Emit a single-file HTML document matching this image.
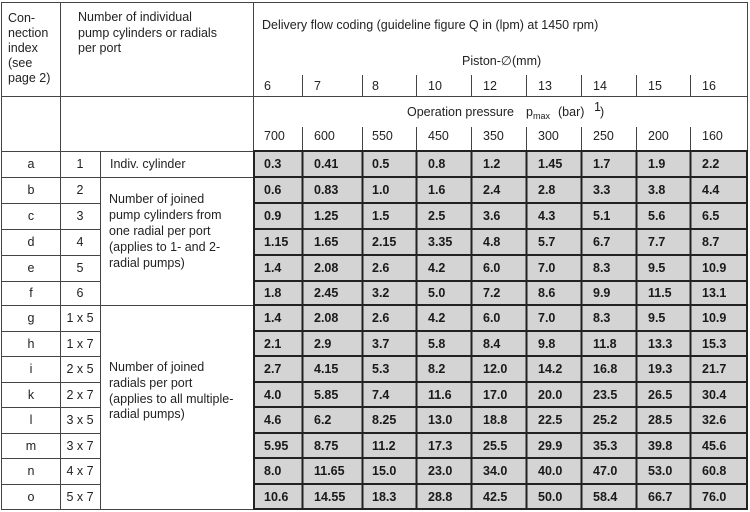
<!DOCTYPE html>
<html><head><meta charset="utf-8"><style>
html,body{margin:0;padding:0;background:#fff}
svg{display:block}
text{font-family:"Liberation Sans",Arial,sans-serif;font-size:12.5px;fill:#222}
.b{font-weight:bold;fill:#1a1a1a}
</style></head><body>
<svg width="750" height="512" viewBox="0 0 750 512" xmlns="http://www.w3.org/2000/svg">
<rect x="253" y="151" width="495" height="359" fill="#d4d4d4"/>
<g stroke="#444" stroke-width="1" fill="none">
<rect x="1.5" y="2.5" width="746" height="507"/>
<line x1="60.5" y1="2" x2="60.5" y2="510"/>
<line x1="100.5" y1="151" x2="100.5" y2="510"/>
<line x1="253.5" y1="2" x2="253.5" y2="510"/>
<line x1="1" y1="96.5" x2="748" y2="96.5"/>
<line x1="1" y1="151.5" x2="253" y2="151.5"/>
<line x1="100" y1="177.5" x2="253" y2="177.5"/>
<line x1="100" y1="305.5" x2="253" y2="305.5"/>
<line x1="1" y1="177.5" x2="100" y2="177.5"/><line x1="1" y1="203.5" x2="100" y2="203.5"/>
<line x1="1" y1="229.5" x2="100" y2="229.5"/><line x1="1" y1="255.5" x2="100" y2="255.5"/>
<line x1="1" y1="281.5" x2="100" y2="281.5"/><line x1="1" y1="305.5" x2="100" y2="305.5"/>
<line x1="1" y1="331.5" x2="100" y2="331.5"/><line x1="1" y1="356.5" x2="100" y2="356.5"/>
<line x1="1" y1="382.5" x2="100" y2="382.5"/><line x1="1" y1="407.5" x2="100" y2="407.5"/>
<line x1="1" y1="433.5" x2="100" y2="433.5"/><line x1="1" y1="458.5" x2="100" y2="458.5"/>
<line x1="1" y1="484.5" x2="100" y2="484.5"/>
<line x1="302.5" y1="75" x2="302.5" y2="96"/><line x1="362.5" y1="75" x2="362.5" y2="96"/>
<line x1="416.5" y1="75" x2="416.5" y2="96"/><line x1="471.5" y1="75" x2="471.5" y2="96"/>
<line x1="526.5" y1="75" x2="526.5" y2="96"/><line x1="581.5" y1="75" x2="581.5" y2="96"/>
<line x1="636.5" y1="75" x2="636.5" y2="96"/><line x1="690.5" y1="75" x2="690.5" y2="96"/>
<line x1="302.5" y1="127" x2="302.5" y2="151"/><line x1="362.5" y1="127" x2="362.5" y2="151"/>
<line x1="416.5" y1="127" x2="416.5" y2="151"/><line x1="471.5" y1="127" x2="471.5" y2="151"/>
<line x1="526.5" y1="127" x2="526.5" y2="151"/><line x1="581.5" y1="127" x2="581.5" y2="151"/>
<line x1="636.5" y1="127" x2="636.5" y2="151"/><line x1="690.5" y1="127" x2="690.5" y2="151"/>
</g>
<g stroke="#222" stroke-width="2" fill="none">
<rect x="254" y="151" width="493" height="358"/>
<line x1="302.5" y1="151" x2="302.5" y2="510"/><line x1="362.5" y1="151" x2="362.5" y2="510"/>
<line x1="416.5" y1="151" x2="416.5" y2="510"/><line x1="471.5" y1="151" x2="471.5" y2="510"/>
<line x1="526.5" y1="151" x2="526.5" y2="510"/><line x1="581.5" y1="151" x2="581.5" y2="510"/>
<line x1="636.5" y1="151" x2="636.5" y2="510"/><line x1="690.5" y1="151" x2="690.5" y2="510"/>
<line x1="253" y1="177" x2="748" y2="177"/><line x1="253" y1="203" x2="748" y2="203"/>
<line x1="253" y1="229" x2="748" y2="229"/><line x1="253" y1="255" x2="748" y2="255"/>
<line x1="253" y1="281" x2="748" y2="281"/><line x1="253" y1="305" x2="748" y2="305"/>
<line x1="253" y1="331" x2="748" y2="331"/><line x1="253" y1="356" x2="748" y2="356"/>
<line x1="253" y1="382" x2="748" y2="382"/><line x1="253" y1="407" x2="748" y2="407"/>
<line x1="253" y1="433" x2="748" y2="433"/><line x1="253" y1="458" x2="748" y2="458"/>
<line x1="253" y1="484" x2="748" y2="484"/>
</g>
<text x="8" y="22">Con-</text><text x="8" y="37">nection</text><text x="8" y="52">index</text><text x="8" y="67">(see</text><text x="8" y="82">page 2)</text>
<text x="78" y="21">Number of individual</text><text x="78" y="37">pump cylinders or radials</text><text x="78" y="52">per port</text>
<text x="262" y="29">Delivery flow coding (guideline figure Q in (lpm) at 1450 rpm)</text>
<text x="462" y="65">Piston-∅</text><text x="512" y="65">(mm)</text>
<text x="264" y="90">6</text><text x="314" y="90">7</text><text x="372" y="90">8</text><text x="428" y="90">10</text><text x="483" y="90">12</text><text x="538" y="90">13</text><text x="593" y="90">14</text><text x="648" y="90">15</text><text x="702" y="90">16</text>
<text x="407" y="116">Operation pressure</text>
<text x="526" y="116">p<tspan font-size="9" dy="3">max</tspan></text>
<text x="558" y="116">(bar)</text>
<text x="594" y="111" font-size="8">1</text><text x="600" y="116">)</text>
<text x="264" y="140">700</text><text x="314" y="140">600</text><text x="372" y="140">550</text><text x="428" y="140">450</text><text x="483" y="140">350</text><text x="538" y="140">300</text><text x="593" y="140">250</text><text x="648" y="140">200</text><text x="702" y="140">160</text>
<g text-anchor="middle">
<text x="31" y="168">a</text><text x="31" y="194">b</text><text x="31" y="220">c</text><text x="31" y="246">d</text><text x="31" y="272">e</text><text x="31" y="297">f</text><text x="31" y="322">g</text><text x="31" y="348">h</text><text x="31" y="373">i</text><text x="31" y="399">k</text><text x="31" y="424">l</text><text x="31" y="450">m</text><text x="31" y="475">n</text><text x="31" y="501">o</text>
<text x="80" y="168">1</text><text x="80" y="194">2</text><text x="80" y="220">3</text><text x="80" y="246">4</text><text x="80" y="272">5</text><text x="80" y="297">6</text><text x="80" y="322">1 x 5</text><text x="80" y="348">1 x 7</text><text x="80" y="373">2 x 5</text><text x="80" y="399">2 x 7</text><text x="80" y="424">3 x 5</text><text x="80" y="450">3 x 7</text><text x="80" y="475">4 x 7</text><text x="80" y="501">5 x 7</text>
</g>
<text x="110" y="168">Indiv. cylinder</text>
<text x="109" y="203">Number of joined</text><text x="109" y="219">pump cylinders from</text><text x="109" y="235">one radial per port</text><text x="109" y="251">(applies to 1- and 2-</text><text x="109" y="267">radial pumps)</text>
<text x="109" y="371">Number of joined</text><text x="109" y="387">radials per port</text><text x="109" y="403">(applies to all multiple-</text><text x="109" y="418">radial pumps)</text>
<text class="b" x="264" y="168">0.3</text><text class="b" x="314" y="168">0.41</text><text class="b" x="372" y="168">0.5</text><text class="b" x="428" y="168">0.8</text><text class="b" x="483" y="168">1.2</text><text class="b" x="538" y="168">1.45</text><text class="b" x="593" y="168">1.7</text><text class="b" x="648" y="168">1.9</text><text class="b" x="702" y="168">2.2</text>
<text class="b" x="264" y="194">0.6</text><text class="b" x="314" y="194">0.83</text><text class="b" x="372" y="194">1.0</text><text class="b" x="428" y="194">1.6</text><text class="b" x="483" y="194">2.4</text><text class="b" x="538" y="194">2.8</text><text class="b" x="593" y="194">3.3</text><text class="b" x="648" y="194">3.8</text><text class="b" x="702" y="194">4.4</text>
<text class="b" x="264" y="220">0.9</text><text class="b" x="314" y="220">1.25</text><text class="b" x="372" y="220">1.5</text><text class="b" x="428" y="220">2.5</text><text class="b" x="483" y="220">3.6</text><text class="b" x="538" y="220">4.3</text><text class="b" x="593" y="220">5.1</text><text class="b" x="648" y="220">5.6</text><text class="b" x="702" y="220">6.5</text>
<text class="b" x="264" y="246">1.15</text><text class="b" x="314" y="246">1.65</text><text class="b" x="372" y="246">2.15</text><text class="b" x="428" y="246">3.35</text><text class="b" x="483" y="246">4.8</text><text class="b" x="538" y="246">5.7</text><text class="b" x="593" y="246">6.7</text><text class="b" x="648" y="246">7.7</text><text class="b" x="702" y="246">8.7</text>
<text class="b" x="264" y="272">1.4</text><text class="b" x="314" y="272">2.08</text><text class="b" x="372" y="272">2.6</text><text class="b" x="428" y="272">4.2</text><text class="b" x="483" y="272">6.0</text><text class="b" x="538" y="272">7.0</text><text class="b" x="593" y="272">8.3</text><text class="b" x="648" y="272">9.5</text><text class="b" x="702" y="272">10.9</text>
<text class="b" x="264" y="297">1.8</text><text class="b" x="314" y="297">2.45</text><text class="b" x="372" y="297">3.2</text><text class="b" x="428" y="297">5.0</text><text class="b" x="483" y="297">7.2</text><text class="b" x="538" y="297">8.6</text><text class="b" x="593" y="297">9.9</text><text class="b" x="648" y="297">11.5</text><text class="b" x="702" y="297">13.1</text>
<text class="b" x="264" y="322">1.4</text><text class="b" x="314" y="322">2.08</text><text class="b" x="372" y="322">2.6</text><text class="b" x="428" y="322">4.2</text><text class="b" x="483" y="322">6.0</text><text class="b" x="538" y="322">7.0</text><text class="b" x="593" y="322">8.3</text><text class="b" x="648" y="322">9.5</text><text class="b" x="702" y="322">10.9</text>
<text class="b" x="264" y="348">2.1</text><text class="b" x="314" y="348">2.9</text><text class="b" x="372" y="348">3.7</text><text class="b" x="428" y="348">5.8</text><text class="b" x="483" y="348">8.4</text><text class="b" x="538" y="348">9.8</text><text class="b" x="593" y="348">11.8</text><text class="b" x="648" y="348">13.3</text><text class="b" x="702" y="348">15.3</text>
<text class="b" x="264" y="373">2.7</text><text class="b" x="314" y="373">4.15</text><text class="b" x="372" y="373">5.3</text><text class="b" x="428" y="373">8.2</text><text class="b" x="483" y="373">12.0</text><text class="b" x="538" y="373">14.2</text><text class="b" x="593" y="373">16.8</text><text class="b" x="648" y="373">19.3</text><text class="b" x="702" y="373">21.7</text>
<text class="b" x="264" y="399">4.0</text><text class="b" x="314" y="399">5.85</text><text class="b" x="372" y="399">7.4</text><text class="b" x="428" y="399">11.6</text><text class="b" x="483" y="399">17.0</text><text class="b" x="538" y="399">20.0</text><text class="b" x="593" y="399">23.5</text><text class="b" x="648" y="399">26.5</text><text class="b" x="702" y="399">30.4</text>
<text class="b" x="264" y="424">4.6</text><text class="b" x="314" y="424">6.2</text><text class="b" x="372" y="424">8.25</text><text class="b" x="428" y="424">13.0</text><text class="b" x="483" y="424">18.8</text><text class="b" x="538" y="424">22.5</text><text class="b" x="593" y="424">25.2</text><text class="b" x="648" y="424">28.5</text><text class="b" x="702" y="424">32.6</text>
<text class="b" x="264" y="450">5.95</text><text class="b" x="314" y="450">8.75</text><text class="b" x="372" y="450">11.2</text><text class="b" x="428" y="450">17.3</text><text class="b" x="483" y="450">25.5</text><text class="b" x="538" y="450">29.9</text><text class="b" x="593" y="450">35.3</text><text class="b" x="648" y="450">39.8</text><text class="b" x="702" y="450">45.6</text>
<text class="b" x="264" y="475">8.0</text><text class="b" x="314" y="475">11.65</text><text class="b" x="372" y="475">15.0</text><text class="b" x="428" y="475">23.0</text><text class="b" x="483" y="475">34.0</text><text class="b" x="538" y="475">40.0</text><text class="b" x="593" y="475">47.0</text><text class="b" x="648" y="475">53.0</text><text class="b" x="702" y="475">60.8</text>
<text class="b" x="264" y="501">10.6</text><text class="b" x="314" y="501">14.55</text><text class="b" x="372" y="501">18.3</text><text class="b" x="428" y="501">28.8</text><text class="b" x="483" y="501">42.5</text><text class="b" x="538" y="501">50.0</text><text class="b" x="593" y="501">58.4</text><text class="b" x="648" y="501">66.7</text><text class="b" x="702" y="501">76.0</text>
</svg>
</body></html>
